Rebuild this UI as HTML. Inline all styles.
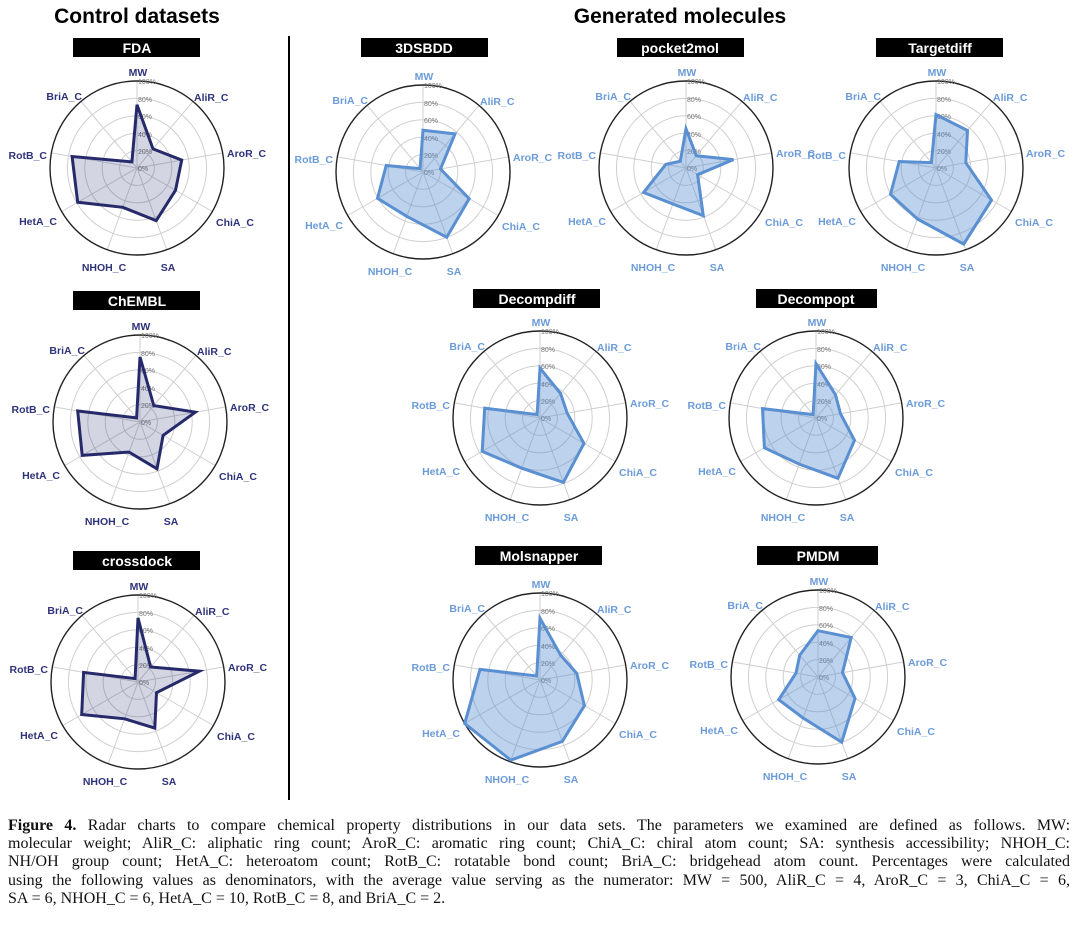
<!DOCTYPE html>
<html><head><meta charset="utf-8"><style>
html,body{margin:0;padding:0;background:#fff;}
body{width:1080px;height:926px;position:relative;overflow:hidden;}
svg{position:absolute;left:0;top:0;}
.t{font:bold 14px "Liberation Sans",sans-serif;fill:#fff;text-anchor:middle;}
.g{fill:none;stroke:#cfcfcf;stroke-width:1;}
.o{fill:none;stroke:#222;stroke-width:1.4;}
.pc text{font:7px "Liberation Sans",sans-serif;fill:#777;}
.lab text{font:bold 10.5px "Liberation Sans",sans-serif;}
.L .lab text{fill:#2f337a;}
.R .lab text{fill:#6b9bd8;}
.L polygon{fill:rgba(40,44,110,0.2);stroke:#262a6b;stroke-width:3;stroke-linejoin:miter;}
.R polygon{fill:rgba(90,143,209,0.4);stroke:#5a8fd1;stroke-width:3;stroke-linejoin:miter;}
.m{text-anchor:middle}.s{text-anchor:start}.e{text-anchor:end}
.h{font:bold 21px "Liberation Sans",sans-serif;fill:#000;text-anchor:middle;}
#cap{position:absolute;left:8px;top:817px;width:1062px;font:16px "Liberation Serif",serif;line-height:18.2px;color:#111;}
#cap div{text-align:justify;text-align-last:justify;white-space:nowrap;}
#cap div.last{text-align-last:left;}
</style></head><body>
<svg width="1080" height="810" viewBox="0 0 1080 810">
<text x="137" y="23" class="h">Control datasets</text>
<text x="680" y="23" class="h">Generated molecules</text>
<line x1="289" y1="36" x2="289" y2="800" stroke="#000" stroke-width="2"/>

<!-- FDA -->
<g class="L" transform="translate(137,168)">
<rect x="-64" y="-130" width="127" height="19" fill="#000"/><text x="0" y="-115" class="t">FDA</text>
<circle r="17.4" class="g"/><circle r="34.8" class="g"/><circle r="52.2" class="g"/><circle r="69.6" class="g"/>
<path class="g" d="M0 0L0 -87M0 0L55.9 -66.6M0 0L85.7 -15.1M0 0L75.3 43.5M0 0L29.8 81.8M0 0L-29.8 81.8M0 0L-75.3 43.5M0 0L-85.7 -15.1M0 0L-55.9 -66.6"/>
<circle r="87" class="o"/>
<g class="pc"><text x="1" y="3">0%</text><text x="1" y="-14">20%</text><text x="1" y="-31">40%</text><text x="1" y="-49">60%</text><text x="1" y="-66">80%</text><text x="1" y="-84">100%</text></g>
<polygon points="0,-63.2 16.0,-19.1 44.7,-7.9 38.5,22.3 19.2,52.7 -14.3,39.3 -59.3,34.3 -64.9,-11.5 -5.1,-6.1"/>
<g class="lab"><text class="m" x="1" y="-92">MW</text><text class="s" x="57" y="-67">AliR_C</text><text class="s" x="90" y="-11">AroR_C</text><text class="s" x="79" y="58">ChiA_C</text><text class="m" x="31" y="103">SA</text><text class="m" x="-33" y="103">NHOH_C</text><text class="e" x="-80" y="57">HetA_C</text><text class="e" x="-90" y="-9">RotB_C</text><text class="e" x="-55" y="-68">BriA_C</text></g>
</g>

<!-- ChEMBL -->
<g class="L" transform="translate(140,422)">
<rect x="-67" y="-131" width="127" height="19" fill="#000"/><text x="-3" y="-116" class="t">ChEMBL</text>
<circle r="17.4" class="g"/><circle r="34.8" class="g"/><circle r="52.2" class="g"/><circle r="69.6" class="g"/>
<path class="g" d="M0 0L0 -87M0 0L55.9 -66.6M0 0L85.7 -15.1M0 0L75.3 43.5M0 0L29.8 81.8M0 0L-29.8 81.8M0 0L-75.3 43.5M0 0L-85.7 -15.1M0 0L-55.9 -66.6"/>
<circle r="87" class="o"/>
<g class="pc"><text x="1" y="3">0%</text><text x="1" y="-14">20%</text><text x="1" y="-31">40%</text><text x="1" y="-49">60%</text><text x="1" y="-66">80%</text><text x="1" y="-84">100%</text></g>
<polygon points="0,-65.0 13.8,-16.4 55.3,-9.8 23.1,13.4 17.0,46.8 -10.9,30.1 -57.8,33.4 -62.3,-11.0 -3.4,-4.1"/>
<g class="lab"><text class="m" x="1" y="-92">MW</text><text class="s" x="57" y="-67">AliR_C</text><text class="s" x="90" y="-11">AroR_C</text><text class="s" x="79" y="58">ChiA_C</text><text class="m" x="31" y="103">SA</text><text class="m" x="-33" y="103">NHOH_C</text><text class="e" x="-80" y="57">HetA_C</text><text class="e" x="-90" y="-9">RotB_C</text><text class="e" x="-55" y="-68">BriA_C</text></g>
</g>

<!-- crossdock -->
<g class="L" transform="translate(138,682)">
<rect x="-65" y="-131" width="127" height="19" fill="#000"/><text x="-1" y="-116" class="t">crossdock</text>
<circle r="17.4" class="g"/><circle r="34.8" class="g"/><circle r="52.2" class="g"/><circle r="69.6" class="g"/>
<path class="g" d="M0 0L0 -87M0 0L55.9 -66.6M0 0L85.7 -15.1M0 0L75.3 43.5M0 0L29.8 81.8M0 0L-29.8 81.8M0 0L-75.3 43.5M0 0L-85.7 -15.1M0 0L-55.9 -66.6"/>
<circle r="87" class="o"/>
<g class="pc"><text x="1" y="3">0%</text><text x="1" y="-14">20%</text><text x="1" y="-31">40%</text><text x="1" y="-49">60%</text><text x="1" y="-66">80%</text><text x="1" y="-84">100%</text></g>
<polygon points="0,-64.1 12.6,-15.0 61.4,-10.8 18.5,10.7 16.8,46.1 -13.4,36.8 -56.3,32.5 -54.4,-9.6 -2.9,-3.4"/>
<g class="lab"><text class="m" x="1" y="-92">MW</text><text class="s" x="57" y="-67">AliR_C</text><text class="s" x="90" y="-11">AroR_C</text><text class="s" x="79" y="58">ChiA_C</text><text class="m" x="31" y="103">SA</text><text class="m" x="-33" y="103">NHOH_C</text><text class="e" x="-80" y="57">HetA_C</text><text class="e" x="-90" y="-9">RotB_C</text><text class="e" x="-55" y="-68">BriA_C</text></g>
</g>

<!-- 3DSBDD -->
<g class="R" transform="translate(423,172)">
<rect x="-62" y="-134" width="127" height="19" fill="#000"/><text x="1" y="-119" class="t">3DSBDD</text>
<circle r="17.4" class="g"/><circle r="34.8" class="g"/><circle r="52.2" class="g"/><circle r="69.6" class="g"/>
<path class="g" d="M0 0L0 -87M0 0L55.9 -66.6M0 0L85.7 -15.1M0 0L75.3 43.5M0 0L29.8 81.8M0 0L-29.8 81.8M0 0L-75.3 43.5M0 0L-85.7 -15.1M0 0L-55.9 -66.6"/>
<circle r="87" class="o"/>
<g class="pc"><text x="1" y="3">0%</text><text x="1" y="-14">20%</text><text x="1" y="-31">40%</text><text x="1" y="-49">60%</text><text x="1" y="-66">80%</text><text x="1" y="-84">100%</text></g>
<polygon points="0,-41.8 32.0,-38.1 17.5,-3.1 46.2,26.7 23.7,65.2 -16.1,44.4 -45.5,26.3 -36.8,-6.5 -2.9,-3.4"/>
<g class="lab"><text class="m" x="1" y="-92">MW</text><text class="s" x="57" y="-67">AliR_C</text><text class="s" x="90" y="-11">AroR_C</text><text class="s" x="79" y="58">ChiA_C</text><text class="m" x="31" y="103">SA</text><text class="m" x="-33" y="103">NHOH_C</text><text class="e" x="-80" y="57">HetA_C</text><text class="e" x="-90" y="-9">RotB_C</text><text class="e" x="-55" y="-68">BriA_C</text></g>
</g>

<!-- pocket2mol -->
<g class="R" transform="translate(686,168)">
<rect x="-69" y="-130" width="127" height="19" fill="#000"/><text x="-6" y="-115" class="t">pocket2mol</text>
<circle r="17.4" class="g"/><circle r="34.8" class="g"/><circle r="52.2" class="g"/><circle r="69.6" class="g"/>
<path class="g" d="M0 0L0 -87M0 0L55.9 -66.6M0 0L85.7 -15.1M0 0L75.3 43.5M0 0L29.8 81.8M0 0L-29.8 81.8M0 0L-75.3 43.5M0 0L-85.7 -15.1M0 0L-55.9 -66.6"/>
<circle r="87" class="o"/>
<g class="pc"><text x="1" y="3">0%</text><text x="1" y="-14">20%</text><text x="1" y="-31">40%</text><text x="1" y="-49">60%</text><text x="1" y="-66">80%</text><text x="1" y="-84">100%</text></g>
<polygon points="0,-39.2 10.3,-12.3 47.4,-8.4 11.6,6.7 17.3,47.7 -13.1,36.0 -42.4,24.5 -20.2,-3.6 -5.7,-6.8"/>
<g class="lab"><text class="m" x="1" y="-92">MW</text><text class="s" x="57" y="-67">AliR_C</text><text class="s" x="90" y="-11">AroR_C</text><text class="s" x="79" y="58">ChiA_C</text><text class="m" x="31" y="103">SA</text><text class="m" x="-33" y="103">NHOH_C</text><text class="e" x="-80" y="57">HetA_C</text><text class="e" x="-90" y="-9">RotB_C</text><text class="e" x="-55" y="-68">BriA_C</text></g>
</g>

<!-- Targetdiff -->
<g class="R" transform="translate(936,168)">
<rect x="-60" y="-130" width="127" height="19" fill="#000"/><text x="4" y="-115" class="t">Targetdiff</text>
<circle r="17.4" class="g"/><circle r="34.8" class="g"/><circle r="52.2" class="g"/><circle r="69.6" class="g"/>
<path class="g" d="M0 0L0 -87M0 0L55.9 -66.6M0 0L85.7 -15.1M0 0L75.3 43.5M0 0L29.8 81.8M0 0L-29.8 81.8M0 0L-75.3 43.5M0 0L-85.7 -15.1M0 0L-55.9 -66.6"/>
<circle r="87" class="o"/>
<g class="pc"><text x="1" y="3">0%</text><text x="1" y="-14">20%</text><text x="1" y="-31">40%</text><text x="1" y="-49">60%</text><text x="1" y="-66">80%</text><text x="1" y="-84">100%</text></g>
<polygon points="0,-53.4 31.5,-37.5 29.8,-5.3 55.5,32.1 27.7,76.1 -18.6,51.0 -45.5,26.3 -36.8,-6.5 -4.6,-5.4"/>
<g class="lab"><text class="m" x="1" y="-92">MW</text><text class="s" x="57" y="-67">AliR_C</text><text class="s" x="90" y="-11">AroR_C</text><text class="s" x="79" y="58">ChiA_C</text><text class="m" x="31" y="103">SA</text><text class="m" x="-33" y="103">NHOH_C</text><text class="e" x="-80" y="57">HetA_C</text><text class="e" x="-90" y="-9">RotB_C</text><text class="e" x="-55" y="-68">BriA_C</text></g>
</g>

<!-- Decompdiff -->
<g class="R" transform="translate(540,418)">
<rect x="-67" y="-129" width="127" height="19" fill="#000"/><text x="-3" y="-114" class="t">Decompdiff</text>
<circle r="17.4" class="g"/><circle r="34.8" class="g"/><circle r="52.2" class="g"/><circle r="69.6" class="g"/>
<path class="g" d="M0 0L0 -87M0 0L55.9 -66.6M0 0L85.7 -15.1M0 0L75.3 43.5M0 0L29.8 81.8M0 0L-29.8 81.8M0 0L-75.3 43.5M0 0L-85.7 -15.1M0 0L-55.9 -66.6"/>
<circle r="87" class="o"/>
<g class="pc"><text x="1" y="3">0%</text><text x="1" y="-14">20%</text><text x="1" y="-31">40%</text><text x="1" y="-49">60%</text><text x="1" y="-66">80%</text><text x="1" y="-84">100%</text></g>
<polygon points="0,-49.8 20.6,-24.5 27.2,-4.8 43.9,25.4 23.4,64.4 -18.3,50.2 -57.8,33.4 -55.3,-9.8 -2.9,-3.4"/>
<g class="lab"><text class="m" x="1" y="-92">MW</text><text class="s" x="57" y="-67">AliR_C</text><text class="s" x="90" y="-11">AroR_C</text><text class="s" x="79" y="58">ChiA_C</text><text class="m" x="31" y="103">SA</text><text class="m" x="-33" y="103">NHOH_C</text><text class="e" x="-80" y="57">HetA_C</text><text class="e" x="-90" y="-9">RotB_C</text><text class="e" x="-55" y="-68">BriA_C</text></g>
</g>

<!-- Decompopt -->
<g class="R" transform="translate(816,418)">
<rect x="-60" y="-129" width="121" height="19" fill="#000"/><text x="0" y="-114" class="t">Decompopt</text>
<circle r="17.4" class="g"/><circle r="34.8" class="g"/><circle r="52.2" class="g"/><circle r="69.6" class="g"/>
<path class="g" d="M0 0L0 -87M0 0L55.9 -66.6M0 0L85.7 -15.1M0 0L75.3 43.5M0 0L29.8 81.8M0 0L-29.8 81.8M0 0L-75.3 43.5M0 0L-85.7 -15.1M0 0L-55.9 -66.6"/>
<circle r="87" class="o"/>
<g class="pc"><text x="1" y="3">0%</text><text x="1" y="-14">20%</text><text x="1" y="-31">40%</text><text x="1" y="-49">60%</text><text x="1" y="-66">80%</text><text x="1" y="-84">100%</text></g>
<polygon points="0,-54.3 19.5,-23.2 24.5,-4.3 38.5,22.3 21.9,60.3 -16.8,46.1 -51.6,29.8 -53.5,-9.4 -2.9,-3.4"/>
<g class="lab"><text class="m" x="1" y="-92">MW</text><text class="s" x="57" y="-67">AliR_C</text><text class="s" x="90" y="-11">AroR_C</text><text class="s" x="79" y="58">ChiA_C</text><text class="m" x="31" y="103">SA</text><text class="m" x="-33" y="103">NHOH_C</text><text class="e" x="-80" y="57">HetA_C</text><text class="e" x="-90" y="-9">RotB_C</text><text class="e" x="-55" y="-68">BriA_C</text></g>
</g>

<!-- Molsnapper -->
<g class="R" transform="translate(540,680)">
<rect x="-65" y="-134" width="127" height="19" fill="#000"/><text x="-1" y="-119" class="t">Molsnapper</text>
<circle r="17.4" class="g"/><circle r="34.8" class="g"/><circle r="52.2" class="g"/><circle r="69.6" class="g"/>
<path class="g" d="M0 0L0 -87M0 0L55.9 -66.6M0 0L85.7 -15.1M0 0L75.3 43.5M0 0L29.8 81.8M0 0L-29.8 81.8M0 0L-75.3 43.5M0 0L-85.7 -15.1M0 0L-55.9 -66.6"/>
<circle r="87" class="o"/>
<g class="pc"><text x="1" y="3">0%</text><text x="1" y="-14">20%</text><text x="1" y="-31">40%</text><text x="1" y="-49">60%</text><text x="1" y="-66">80%</text><text x="1" y="-84">100%</text></g>
<polygon points="0,-61.8 20.7,-24.7 36.8,-6.5 44.4,25.7 22.3,61.4 -29.2,80.2 -75.3,43.5 -60.0,-10.6 -3.3,-4.0"/>
<g class="lab"><text class="m" x="1" y="-92">MW</text><text class="s" x="57" y="-67">AliR_C</text><text class="s" x="90" y="-11">AroR_C</text><text class="s" x="79" y="58">ChiA_C</text><text class="m" x="31" y="103">SA</text><text class="m" x="-33" y="103">NHOH_C</text><text class="e" x="-80" y="57">HetA_C</text><text class="e" x="-90" y="-9">RotB_C</text><text class="e" x="-55" y="-68">BriA_C</text></g>
</g>

<!-- PMDM -->
<g class="R" transform="translate(818,677)">
<rect x="-61" y="-131" width="121" height="19" fill="#000"/><text x="0" y="-116" class="t">PMDM</text>
<circle r="17.4" class="g"/><circle r="34.8" class="g"/><circle r="52.2" class="g"/><circle r="69.6" class="g"/>
<path class="g" d="M0 0L0 -87M0 0L55.9 -66.6M0 0L85.7 -15.1M0 0L75.3 43.5M0 0L29.8 81.8M0 0L-29.8 81.8M0 0L-75.3 43.5M0 0L-85.7 -15.1M0 0L-55.9 -66.6"/>
<circle r="87" class="o"/>
<g class="pc"><text x="1" y="3">0%</text><text x="1" y="-14">20%</text><text x="1" y="-31">40%</text><text x="1" y="-49">60%</text><text x="1" y="-66">80%</text><text x="1" y="-84">100%</text></g>
<polygon points="0,-46.3 33.2,-39.5 24.5,-4.3 37.0,21.4 23.7,65.2 -14.9,41.0 -39.3,22.7 -22.0,-3.9 -18.3,-21.8"/>
<g class="lab"><text class="m" x="1" y="-92">MW</text><text class="s" x="57" y="-67">AliR_C</text><text class="s" x="90" y="-11">AroR_C</text><text class="s" x="79" y="58">ChiA_C</text><text class="m" x="31" y="103">SA</text><text class="m" x="-33" y="103">NHOH_C</text><text class="e" x="-80" y="57">HetA_C</text><text class="e" x="-90" y="-9">RotB_C</text><text class="e" x="-55" y="-68">BriA_C</text></g>
</g>
</svg>
<div id="cap">
<div><b>Figure 4.</b> Radar charts to compare chemical property distributions in our data sets. The parameters we examined are defined as follows. MW:</div>
<div>molecular weight; AliR_C: aliphatic ring count; AroR_C: aromatic ring count; ChiA_C: chiral atom count; SA: synthesis accessibility; NHOH_C:</div>
<div>NH/OH group count; HetA_C: heteroatom count; RotB_C: rotatable bond count; BriA_C: bridgehead atom count. Percentages were calculated</div>
<div>using the following values as denominators, with the average value serving as the numerator: MW = 500, AliR_C = 4, AroR_C = 3, ChiA_C = 6,</div>
<div class="last">SA = 6, NHOH_C = 6, HetA_C = 10, RotB_C = 8, and BriA_C = 2.</div>
</div>
</body></html>
